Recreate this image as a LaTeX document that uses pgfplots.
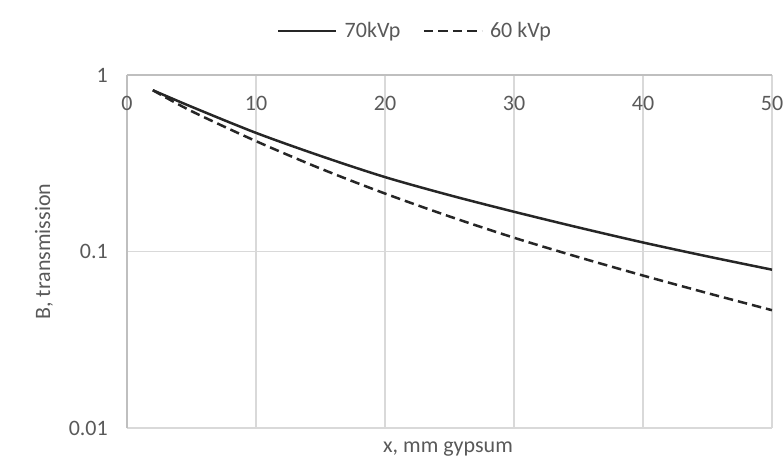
\documentclass[border=0pt]{standalone}
\usepackage{fontspec}
\setmainfont{Carlito}
\usepackage{pgfplots}
\pgfplotsset{compat=1.18}
\definecolor{txt}{HTML}{595959}
\definecolor{gridc}{HTML}{D9D9D9}
\definecolor{axc}{HTML}{BFBFBF}
\definecolor{curve}{HTML}{262626}
\begin{document}
\fontsize{22bp}{26bp}\selectfont%
\begin{tikzpicture}
\begin{axis}[
  at={(0,0)}, anchor=south west,
  scale only axis, width=645bp, height=353bp,
  ymode=log, xmin=0, xmax=50, ymin=0.01, ymax=1,
  xtick={0,10,20,30,40,50},
  ytick={0.01,0.1,1}, yticklabels={0.01,0.1,1},
  yminorticks=false,
  major tick length=0pt,
  axis x line*=top, axis y line*=left,
  axis line style={axc, line width=1.3bp},
  grid=major, major grid style={gridc, line width=1.3bp},
  tick label style={text=txt},
  /pgf/number format/assume math mode=true,
  xticklabel style={anchor=center, inner sep=0pt, yshift=-28bp},
  yticklabel style={anchor=east, inner sep=0pt, xshift=-19bp},
  ylabel={B, transmission},
  ylabel style={at={(axis description cs:-0.1287,0.5)}, anchor=center, text=txt},
  xlabel={x, mm gypsum},
  xlabel style={at={(axis description cs:0.4977,-0.0708)}, anchor=base, text=txt},
  legend columns=2,
  legend style={draw=none, fill=none, at={(axis description cs:0.2326,1.1246)}, anchor=west,
    inner sep=0pt, text=txt, nodes={inner sep=0pt},
    /tikz/every odd column/.append style={column sep=7bp},
    /tikz/every even column/.append style={column sep=22bp}},
  legend image code/.code={\draw[#1] (0bp,0bp) -- (58bp,0bp);},
]
\addplot[curve, line width=2.5bp, smooth] coordinates {
(2,0.82) (5,0.661) (10,0.47) (15,0.348) (20,0.264) (25,0.2085) (30,0.168) (35,0.1368) (40,0.1125) (45,0.0938) (50,0.0789)
};
\addlegendentry{70kVp}
\addplot[curve, line width=2.5bp, smooth, dash pattern=on 9.5bp off 5bp] coordinates {
(2,0.82) (5,0.624) (10,0.422) (15,0.295) (20,0.213) (25,0.158) (30,0.1197) (35,0.0929) (40,0.0731) (45,0.0581) (50,0.0465)
};
\addlegendentry{60 kVp}
\end{axis}
\pgfresetboundingbox
\useasboundingbox (-127bp,-34bp) rectangle (657bp,428bp);
\end{tikzpicture}
\end{document}
